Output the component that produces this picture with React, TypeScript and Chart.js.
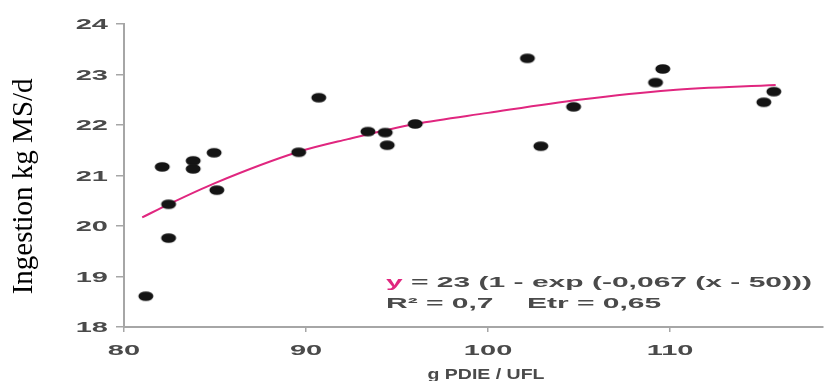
import React, { useEffect, useRef } from 'react';
import { Chart, registerables } from 'chart.js';

Chart.register(...registerables);

// Observed points (g PDIE / UFL, Ingestion kg MS/d)
const pointX = [81.2, 82.1, 82.45, 82.45, 83.8, 83.8, 84.95, 85.1, 89.6, 90.7, 93.4, 94.35, 94.46, 96.0, 102.16, 102.9, 104.7, 109.2, 109.6, 115.15, 115.7];
const pointY = [18.61, 21.17, 20.43, 19.76, 21.29, 21.13, 21.45, 20.71, 21.46, 22.54, 21.87, 21.85, 21.6, 22.02, 23.32, 21.58, 22.36, 22.84, 23.11, 22.45, 22.66];

// Fitted curve
const curveX = [81, 82.45, 85, 89.6, 92.3, 96, 100, 105, 110, 115.8];
const curveY = [20.17, 20.43, 20.85, 21.47, 21.72, 22.02, 22.24, 22.5, 22.69, 22.79];

const xTicks = [80, 90, 100, 110];
const yTicks = [18, 19, 20, 21, 22, 23, 24];

const xTitle = 'g PDIE / UFL';
const yTitle = 'Ingestion kg MS/d';
const eqVar = 'y';
const eqRest = ' = 23 (1 - exp (-0,067 (x - 50)))';
const statsText = 'R\u00B2 = 0,7    Etr = 0,65';

const AXIS = '#a6a6a6';
const TEXT = '#4a4a4a';
const CURVE = '#e0267f';
const SANS = '"Liberation Sans", Arial, sans-serif';
const SX = 2.0;

const textPlugin = {
  id: 'stretchedText',
  afterDraw(chart: any) {
    const ctx = chart.ctx as CanvasRenderingContext2D;
    const xs = chart.scales.x;
    const ys = chart.scales.y;
    ctx.save();
    ctx.fillStyle = TEXT;
    ctx.font = `bold 14.5px ${SANS}`;
    ctx.textBaseline = 'middle';
    // y tick labels
    ys.ticks.forEach((t: any) => {
      const py = ys.getPixelForValue(t.value);
      ctx.save();
      ctx.translate(ys.right - 16, py + 1);
      ctx.scale(SX, 1);
      ctx.textAlign = 'right';
      ctx.fillText(String(t.value), 0, 0);
      ctx.restore();
    });
    // x tick labels
    xs.ticks.forEach((t: any) => {
      const px = xs.getPixelForValue(t.value);
      ctx.save();
      ctx.translate(px, xs.top + 23.5);
      ctx.scale(SX, 1);
      ctx.textAlign = 'center';
      ctx.fillText(String(t.value), 0, 0);
      ctx.restore();
    });
    // x title
    ctx.save();
    ctx.font = `bold 15px ${SANS}`;
    ctx.textBaseline = 'alphabetic';
    ctx.translate(486, 379);
    ctx.scale(1.3, 1);
    ctx.textAlign = 'center';
    ctx.fillText(xTitle, 0, 0);
    ctx.restore();
    // equation
    ctx.save();
    ctx.textBaseline = 'alphabetic';
    ctx.textAlign = 'left';
    ctx.translate(386, 287);
    ctx.scale(SX, 1);
    ctx.font = `bold 15px ${SANS}`;
    ctx.fillStyle = CURVE;
    ctx.fillText(eqVar, 0, 0);
    const w = ctx.measureText(eqVar).width;
    ctx.fillStyle = TEXT;
    ctx.fillText(eqRest, w, 0);
    ctx.fillText(statsText, 0, 21);
    ctx.restore();
    ctx.restore();
  },
};

export default function App() {
  const ref = useRef<HTMLCanvasElement | null>(null);

  useEffect(() => {
    if (!ref.current) return;
    const dot = document.createElement('canvas');
    dot.width = 18;
    dot.height = 12;
    const dctx = dot.getContext('2d')!;
    dctx.fillStyle = '#141414';
    dctx.beginPath();
    dctx.ellipse(9, 6, 7.5, 4.8, 0, 0, Math.PI * 2);
    dctx.fill();

    const chart = new Chart(ref.current, {
      type: 'scatter',
      data: {
        datasets: [
          {
            label: 'obs',
            data: pointX.map((x, i) => ({ x, y: pointY[i] })),
            pointStyle: dot as any,
            pointRadius: 6,
            backgroundColor: '#141414',
            borderColor: '#141414',
          },
          {
            label: 'fit',
            data: curveX.map((x, i) => ({ x, y: curveY[i] })),
            showLine: true,
            pointRadius: 0,
            borderColor: CURVE,
            borderWidth: 2,
            cubicInterpolationMode: 'monotone',
            fill: false,
          } as any,
        ],
      },
      options: {
        responsive: false,
        animation: false,
        layout: { padding: { top: 24, left: 0, right: 0, bottom: 0 } },
        plugins: { legend: { display: false }, tooltip: { enabled: false } },
        scales: {
          x: {
            type: 'linear',
            min: 80,
            max: 118.4,
            afterBuildTicks: (s: any) => {
              s.ticks = xTicks.map((v) => ({ value: v }));
            },
            afterFit: (s: any) => {
              s.height = 54;
            },
            ticks: { display: false },
            grid: { display: true, drawOnChartArea: false, drawTicks: true, tickLength: 5, color: AXIS, lineWidth: 1.5 },
            border: { display: true, color: AXIS, width: 2 },
          },
          y: {
            type: 'linear',
            min: 18,
            max: 24,
            afterBuildTicks: (s: any) => {
              s.ticks = yTicks.map((v) => ({ value: v }));
            },
            afterFit: (s: any) => {
              s.width = 124;
            },
            ticks: { display: false },
            grid: { display: true, drawOnChartArea: false, drawTicks: true, tickLength: 8, color: AXIS, lineWidth: 1.5 },
            border: { display: true, color: AXIS, width: 2 },
            title: {
              display: true,
              text: yTitle + '   ',
              color: '#000',
              font: { family: '"Liberation Serif", "Times New Roman", serif', size: 29, weight: 'normal' },
              padding: { top: 7, bottom: 0 },
            },
          },
        },
      } as any,
      plugins: [textPlugin],
    });
    return () => chart.destroy();
  }, []);

  return (
    <div style={{ position: 'absolute', left: 0, top: 0, width: 830, height: 381, background: '#fff' }}>
      <canvas ref={ref} width={830} height={381} style={{ display: 'block' }} />
    </div>
  );
}
